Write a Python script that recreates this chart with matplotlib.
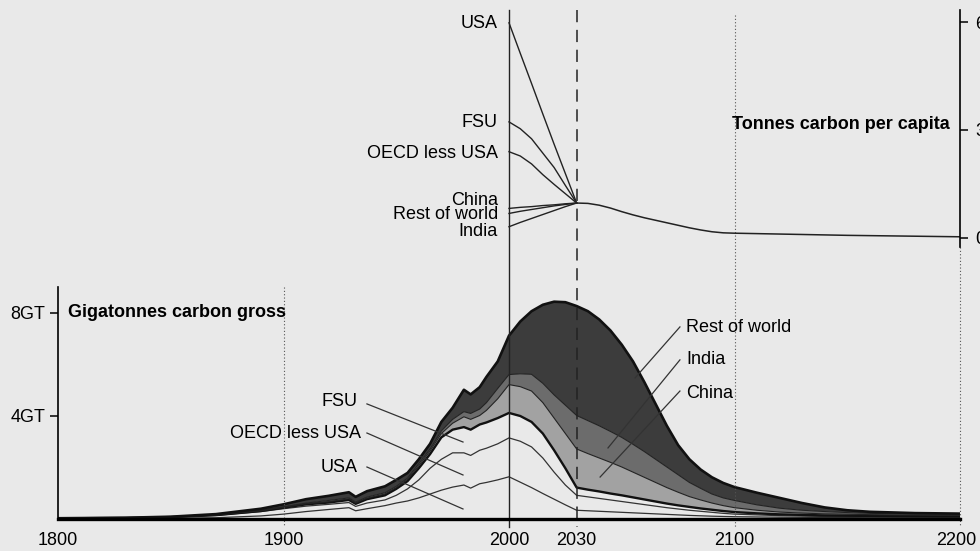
import numpy as np
import matplotlib
matplotlib.use("Agg")
import matplotlib.pyplot as plt
from matplotlib.transforms import blended_transform_factory, ScaledTranslation

plt.rcParams['font.family'] = ['Liberation Sans', 'DejaVu Sans']

# ---- Gross emissions by region (GtC per year), stacked bottom to top ----
years = [1800, 1830, 1850, 1870, 1890, 1900, 1910, 1920, 1929, 1932, 1937,
         1945, 1950, 1955, 1960, 1965, 1970, 1975, 1980, 1983, 1987, 1990,
         1995, 2000, 2005, 2010, 2015, 2020, 2025, 2030, 2035, 2040, 2045,
         2050, 2055, 2060, 2065, 2070, 2075, 2080, 2085, 2090, 2095, 2100,
         2110, 2120, 2130, 2140, 2150, 2160, 2180, 2200]
usa = [0.0, 0.003, 0.01, 0.03, 0.10, 0.17, 0.27, 0.35, 0.42, 0.30, 0.38,
       0.50, 0.60, 0.68, 0.80, 0.95, 1.10, 1.22, 1.30, 1.18, 1.35, 1.40,
       1.50, 1.62, 1.41, 1.20, 0.97, 0.75, 0.53, 0.32, 0.30, 0.28, 0.26,
       0.24, 0.22, 0.20, 0.18, 0.16, 0.14, 0.12, 0.105, 0.09, 0.08, 0.07,
       0.06, 0.05, 0.045, 0.04, 0.035, 0.03, 0.03, 0.03]
oecd_less_usa = [0.005, 0.017, 0.04, 0.09, 0.17, 0.21, 0.21, 0.20, 0.20, 0.17, 0.22,
                 0.22, 0.30, 0.47, 0.70, 1.00, 1.20, 1.33, 1.25, 1.27, 1.30, 1.33,
                 1.40, 1.51, 1.59, 1.58, 1.38, 1.05, 0.77, 0.58, 0.54, 0.50, 0.46,
                 0.42, 0.38, 0.34, 0.30, 0.26, 0.23, 0.20, 0.175, 0.15, 0.12, 0.10,
                 0.08, 0.06, 0.05, 0.04, 0.04, 0.04, 0.03, 0.03]
fsu = [0.001, 0.002, 0.005, 0.01, 0.02, 0.04, 0.07, 0.07, 0.10, 0.10, 0.15,
       0.18, 0.25, 0.30, 0.45, 0.55, 0.85, 0.90, 1.00, 1.00, 1.00, 1.00,
       1.00, 0.97, 0.98, 0.97, 0.95, 0.85, 0.65, 0.30, 0.28, 0.27, 0.25,
       0.24, 0.22, 0.20, 0.18, 0.16, 0.14, 0.13, 0.11, 0.10, 0.09, 0.08,
       0.06, 0.05, 0.045, 0.04, 0.035, 0.03, 0.03, 0.02]
china = [0.001, 0.002, 0.003, 0.005, 0.01, 0.01, 0.02, 0.03, 0.04, 0.03, 0.04,
         0.05, 0.05, 0.07, 0.10, 0.12, 0.15, 0.25, 0.40, 0.40, 0.35, 0.47,
         0.75, 1.10, 1.14, 1.20, 1.20, 1.25, 1.35, 1.50, 1.40, 1.30, 1.21,
         1.10, 0.98, 0.86, 0.74, 0.62, 0.51, 0.40, 0.33, 0.26, 0.21, 0.17,
         0.12, 0.09, 0.07, 0.06, 0.055, 0.05, 0.04, 0.04]
india = [0.001, 0.002, 0.003, 0.005, 0.01, 0.02, 0.03, 0.05, 0.04, 0.04, 0.04,
         0.05, 0.05, 0.05, 0.08, 0.08, 0.10, 0.15, 0.20, 0.23, 0.25, 0.30,
         0.40, 0.39, 0.50, 0.65, 0.75, 0.90, 1.10, 1.30, 1.28, 1.25, 1.20,
         1.15, 1.08, 1.00, 0.90, 0.80, 0.68, 0.55, 0.45, 0.35, 0.30, 0.28,
         0.21, 0.15, 0.11, 0.09, 0.065, 0.05, 0.04, 0.04]
rest_of_world = [0.002, 0.004, 0.009, 0.03, 0.07, 0.10, 0.15, 0.18, 0.22, 0.20, 0.23,
                 0.25, 0.25, 0.20, 0.17, 0.20, 0.35, 0.45, 0.85, 0.74, 0.85, 1.00,
                 1.05, 1.51, 2.03, 2.45, 3.05, 3.62, 4.00, 4.25, 4.25, 4.13, 3.92,
                 3.60, 3.22, 2.70, 2.15, 1.60, 1.15, 0.90, 0.73, 0.65, 0.58, 0.52,
                 0.47, 0.40, 0.28, 0.16, 0.09, 0.06, 0.04, 0.03]

# ---- Per-capita emissions (tonnes carbon per person) ----
conv_years = [2000, 2005, 2010, 2015, 2020, 2025, 2030]
pc_usa = [5.98, 5.13, 4.29, 3.44, 2.60, 1.78, 0.96]
pc_fsu = [3.22, 3.03, 2.75, 2.35, 1.95, 1.45, 0.96]
pc_oecd = [2.39, 2.27, 2.05, 1.75, 1.48, 1.22, 0.96]
pc_china = [0.81, 0.84, 0.86, 0.89, 0.91, 0.94, 0.96]
pc_row = [0.67, 0.73, 0.78, 0.83, 0.88, 0.92, 0.96]
pc_india = [0.30, 0.42, 0.53, 0.64, 0.75, 0.86, 0.96]
shared_years = [2030, 2035, 2040, 2045, 2050, 2055, 2060, 2065, 2070, 2075,
                2080, 2085, 2090, 2095, 2100, 2125, 2150, 2175, 2200]
pc_shared = [0.96, 0.95, 0.90, 0.82, 0.72, 0.63, 0.55, 0.48, 0.41, 0.34,
             0.27, 0.21, 0.16, 0.13, 0.12, 0.09, 0.06, 0.04, 0.02]

x_ticks = [1800, 1900, 2000, 2030, 2100, 2200]
gt_ticks = [4, 8]
gt_labels = ['4GT', '8GT']
pc_ticks = [0, 3, 6]

# ---- Figure layout (pixel based) ----
W, H = 980, 551
bg = '#e9e9e9'
fig = plt.figure(figsize=(W / 100, H / 100), dpi=100)
fig.patch.set_facecolor(bg)


def fx(px):
    return px / W


def fy(py):
    return 1 - py / H


x_left, x_right = 58, 960
base_px, gt_px = 518.5, 25.75          # baseline and pixels per GtC
zero_px, t_px = 237.5, 35.9            # per-capita zero and pixels per tonne

ax = fig.add_axes([fx(x_left), fy(base_px), (x_right - x_left) / W, (base_px - 287) / H])
axt = fig.add_axes([fx(x_left), fy(247), (x_right - x_left) / W, (247 - 10) / H])
for a in (ax, axt):
    a.set_facecolor('none')
    a.set_xlim(1800, 2200)
ax.set_ylim(0, (base_px - 287) / gt_px)
axt.set_ylim(-(247 - zero_px) / t_px, (zero_px - 10) / t_px)

# ---- Stacked gross emissions ----
layers = [usa, oecd_less_usa, fsu, china, india, rest_of_world]
fills = [bg, bg, bg, '#a2a2a2', '#6c6c6c', '#3c3c3c']
ax.stackplot(years, *layers, colors=fills, linewidth=0)
cum = np.cumsum(np.array(layers), axis=0)
edge_styles = [('#333333', 0.9), ('#333333', 0.9), ('#111111', 1.7),
               ('#222222', 0.8), ('#222222', 0.8), ('#111111', 1.9)]
for top, (c, lw) in zip(cum, edge_styles):
    ax.plot(years, top, color=c, lw=lw, solid_joinstyle='round')

# axes styling, bottom panel
for s in ('top', 'right'):
    ax.spines[s].set_visible(False)
ax.spines['left'].set_linewidth(1.2)
ax.spines['bottom'].set_linewidth(2.4)
ax.set_yticks(gt_ticks)
ax.set_yticklabels(gt_labels, fontsize=13)
ax.tick_params(axis='y', direction='out', length=6, width=1.1, pad=3)
ax.set_xticks(x_ticks)
ax.set_xticklabels([str(t) for t in x_ticks], fontsize=13)
ax.tick_params(axis='x', length=0, pad=10)
last = ax.get_xticklabels()[-1]
last.set_transform(last.get_transform() + ScaledTranslation(-2.5 / 72, 0, fig.dpi_scale_trans))

# ---- Per-capita convergence ----
for vals in (pc_usa, pc_fsu, pc_oecd, pc_china, pc_row, pc_india):
    axt.plot(conv_years, vals, color='#222222', lw=1.0)
axt.plot(shared_years, pc_shared, color='#222222', lw=1.1)

for s in ('top', 'left', 'bottom'):
    axt.spines[s].set_visible(False)
axt.spines['right'].set_linewidth(1.2)
axt.set_xticks([])
axt.yaxis.tick_right()
axt.set_yticks(pc_ticks)
axt.set_yticklabels([str(t) for t in pc_ticks], fontsize=13)
axt.tick_params(axis='y', direction='out', length=6, width=1.1, pad=5)

# ---- Reference verticals spanning both panels ----
bt = blended_transform_factory(ax.transData, fig.transFigure)
ax.plot([2000, 2000], [fy(10), fy(527)], transform=bt, clip_on=False, color='#222222', lw=1.0)
ax.plot([2030, 2030], [fy(10), fy(527)], transform=bt, clip_on=False, color='#222222',
        lw=1.1, linestyle=(0, (8, 5)))
for yr, top_px in ((1900, 287), (2100, 15), (2200, 247)):
    ax.plot([yr, yr], [fy(top_px), fy(527)], transform=bt, clip_on=False,
            color='#555555', lw=0.8, linestyle=(0, (1, 2)))

# ---- Text ----
ax.text(1804.4, 8, 'Gigatonnes carbon gross', fontsize=13, fontweight='bold',
        ha='left', va='center')
axt.text(2195.5, 3.15, 'Tonnes carbon per capita', fontsize=13, fontweight='bold',
         ha='right', va='center')

top_labels = [('USA', 5.97), ('FSU', 3.2), ('OECD less USA', 2.35),
              ('China', 1.03), ('Rest of world', 0.65), ('India', 0.18)]
for name, yv in top_labels:
    axt.text(1995.1, yv, name, fontsize=13, ha='right', va='center')

left_labels = [('FSU', 1933.0, 4.56, (1937, 4.45), (1979.6, 2.97)),
               ('OECD less USA', 1934.4, 3.32, (1937, 3.32), (1979.6, 1.69)),
               ('USA', 1933.0, 2.0, (1937, 2.0), (1979.6, 0.37))]
for name, tx, ty, p0, p1 in left_labels:
    ax.text(tx, ty, name, fontsize=13, ha='right', va='center')
    ax.plot([p0[0], p1[0]], [p0[1], p1[1]], color='#333333', lw=0.9)

right_labels = [('Rest of world', 7.4, (2075.8, 7.44), (2055.9, 5.46)),
                ('India', 6.16, (2075.8, 6.16), (2043.9, 2.74)),
                ('China', 4.87, (2075.8, 4.95), (2040.4, 1.61))]
for name, ty, p0, p1 in right_labels:
    ax.text(2078.5, ty, name, fontsize=13, ha='left', va='center')
    ax.plot([p0[0], p1[0]], [p0[1], p1[1]], color='#333333', lw=0.9)

fig.savefig('out.png', dpi=100, facecolor=bg)
